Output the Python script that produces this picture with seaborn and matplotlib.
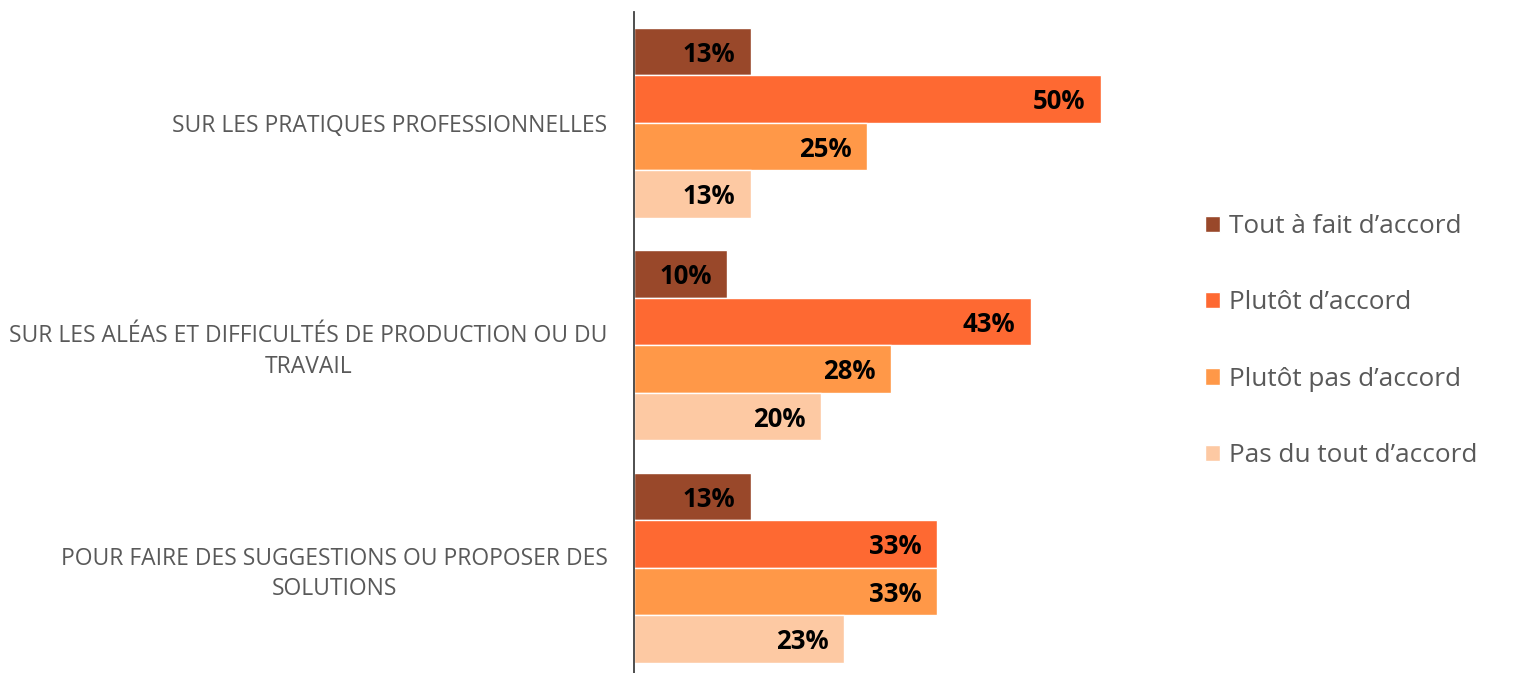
import seaborn as sns
import matplotlib.pyplot as plt
import pandas as pd
from matplotlib.patches import Patch

# survey questions (y categories)
questions = [
    "SUR LES PRATIQUES PROFESSIONNELLES",
    "SUR LES ALÉAS ET DIFFICULTÉS DE PRODUCTION OU DU\nTRAVAIL",
    "POUR FAIRE DES SUGGESTIONS OU PROPOSER DES\nSOLUTIONS",
]
answers = ["Tout à fait d’accord", "Plutôt d’accord", "Plutôt pas d’accord", "Pas du tout d’accord"]

# percentages per answer, one value per question
tout_a_fait = [12.5, 10.0, 12.5]
plutot = [50.0, 42.5, 32.5]
plutot_pas = [25.0, 27.5, 32.5]
pas_du_tout = [12.5, 20.0, 22.5]

colors = ["#99482A", "#FE6932", "#FF9848", "#FDC9A3"]

rows = []
for answer, vals in zip(answers, [tout_a_fait, plutot, plutot_pas, pas_du_tout]):
    for q, v in zip(questions, vals):
        rows.append({"question": q, "answer": answer, "value": v})
df = pd.DataFrame(rows)

sns.set_style("white")
plt.rcParams['font.family'] = ['Open Sans', 'DejaVu Sans']

fig = plt.figure(figsize=(15.14, 6.73), dpi=100)
ax = fig.add_axes([634 / 1514, 0, 560 / 1514, 1 - 11.5 / 673])

sns.barplot(data=df, x="value", y="question", hue="answer", orient="h",
            palette=colors, width=0.855, edgecolor="white", linewidth=1,
            saturation=1, ax=ax, legend=False)

ax.set_xlim(0, 60)
ax.set_ylim(2.5 - 6 / 222.5, -0.5)

# value labels inside bar ends
for container in ax.containers:
    for b in container:
        w = b.get_width()
        ax.annotate(f"{int(w + 0.5)}%", (w, b.get_y() + b.get_height() / 2),
                    xytext=(-11, -2), textcoords="offset points", ha="right", va="center",
                    fontsize=18.5, fontweight="bold", color="black")

ax.set_xlabel("")
ax.set_ylabel("")
ax.set_xticks([])
ax.tick_params(axis="y", length=0, pad=19, labelsize=16.5, labelcolor="#595959")
for lab in ax.get_yticklabels():
    lab.set_multialignment("center")
    lab.set_linespacing(1.35)

for s in ["top", "right", "bottom"]:
    ax.spines[s].set_visible(False)
ax.spines["left"].set_color("#404040")
ax.spines["left"].set_linewidth(1.3)

handles = [Patch(facecolor=c, edgecolor="white") for c in colors]
fig.legend(handles, answers, loc="center left", bbox_to_anchor=(1205 / 1514, 1 - 341 / 673),
           frameon=False, fontsize=18.8, labelcolor="#595959", handlelength=0.58,
           handleheight=0.58, handletextpad=0.33, labelspacing=1.97,
           borderpad=0, borderaxespad=0)

fig.savefig("out.png", dpi=100)
